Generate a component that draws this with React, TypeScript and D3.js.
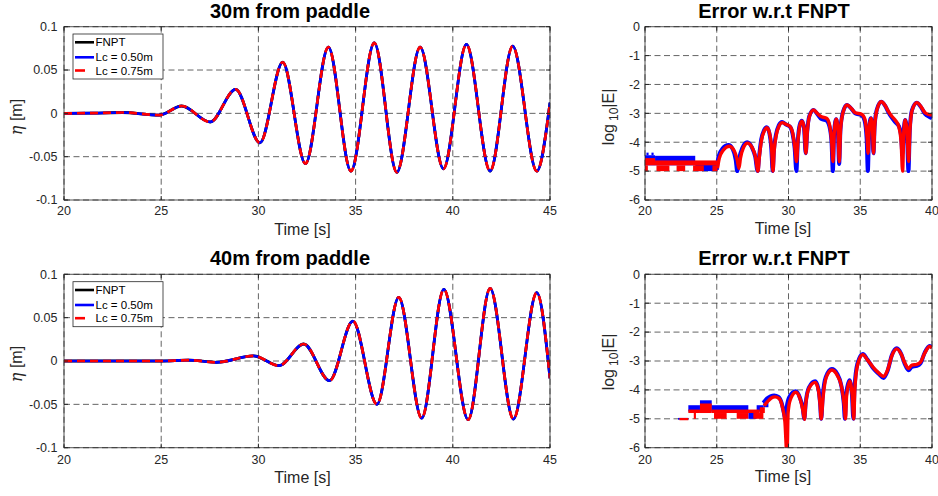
import React from 'react';
import * as d3 from 'd3';

// ---------- axis ticks ----------
const waveTimeTicks = [20, 25, 30, 35, 40, 45];
const etaTicks = [-0.1, -0.05, 0, 0.05, 0.1];
const etaTickLabels = ['-0.1', '-0.05', '0', '0.05', '0.1'];
const errTimeTicks = [20, 25, 30, 35, 40];
const logTicks = [-6, -5, -4, -3, -2, -1, 0];

// ---------- legend ----------
const legendLabels = ['FNPT', 'Lc = 0.50m', 'Lc = 0.75m'];
const seriesColors = ['#000000', '#0000ff', '#ff0000'];

// ---------- surface elevation, 30 m from paddle (time, eta) ----------
const wave30T = [20, 21.5, 23.0, 24.9, 26.05, 27.52, 28.83, 30.08, 31.25, 32.42, 33.6, 34.76, 35.96, 37.12, 38.32, 39.52, 40.7, 41.92, 43.08, 44.32, 45];
const wave30V = [0, 0.0003, 0.001, -0.002, 0.0085, -0.010, 0.0277, -0.034, 0.059, -0.058, 0.0764, -0.0667, 0.0814, -0.068, 0.0764, -0.064, 0.0795, -0.0667, 0.0775, -0.0667, 0.0124];

// ---------- surface elevation, 40 m from paddle ----------
const wave40T = [20, 23, 25, 26.4, 27.84, 29.76, 31.06, 32.33, 33.66, 34.86, 36.10, 37.22, 38.40, 39.54, 40.79, 41.92, 43.12, 44.32, 45];
const wave40V = [0, 0, 0, 0.001, -0.0015, 0.0058, -0.0054, 0.0196, -0.0227, 0.046, -0.050, 0.0735, -0.066, 0.0827, -0.0677, 0.0838, -0.067, 0.0788, -0.020];

// ---------- log10 error, 30 m : quantised noise blocks [t0, t1, top, bottom] ----------
const err30BlueBlocks = [
  [20.0, 20.7, -4.45, -4.8], [20.1, 20.25, -4.36, -4.45], [20.45, 20.6, -4.36, -4.45],
  [20.7, 23.5, -4.47, -4.8], [23.5, 25.05, -4.74, -5.0],
];
const err30RedBlocks = [
  [20.0, 20.7, -4.55, -4.8], [20.7, 25.05, -4.63, -4.8],
  [20.0, 20.2, -4.8, -5.0], [20.8, 21.7, -4.8, -5.0], [22.2, 22.8, -4.8, -5.0],
  [23.35, 24.1, -4.8, -5.0], [24.7, 25.05, -4.8, -5.0],
];
// ---------- log10 error, 30 m : curves [t, log10|E|] ----------
const err30Blue = [
  [25.0, -4.95], [25.12, -4.5], [25.4, -4.22], [25.82, -4.1], [26.12, -4.25], [26.32, -4.6], [26.43, -5.0],
  [26.55, -4.6], [26.78, -4.2], [27.12, -4.0], [27.45, -4.18], [27.68, -4.5], [27.85, -5.0],
  [27.95, -4.5], [28.1, -3.9], [28.3, -3.58], [28.48, -3.48], [28.65, -3.65], [28.8, -4.2], [28.9, -5.0],
  [28.98, -4.3], [29.12, -3.75], [29.32, -3.42], [29.55, -3.3], [29.8, -3.38], [30.1, -3.46], [30.28, -3.7], [30.43, -4.2], [30.55, -5.0],
  [30.65, -3.95], [30.78, -3.4], [30.93, -3.26], [31.08, -3.5], [31.2, -4.38],
  [31.3, -3.65], [31.45, -3.1], [31.74, -2.88], [32.0, -3.02], [32.3, -3.2], [32.65, -3.25], [32.85, -3.45], [33.0, -4.0], [33.09, -5.0],
  [33.18, -3.65], [33.32, -3.2], [33.44, -3.6], [33.53, -4.75],
  [33.62, -3.55], [33.8, -2.95], [34.07, -2.71], [34.4, -2.85], [34.65, -3.0], [35.1, -3.07], [35.3, -3.25], [35.45, -3.9], [35.53, -5.0],
  [35.62, -3.5], [35.74, -3.17], [35.85, -3.6], [35.92, -4.38],
  [36.0, -3.45], [36.15, -2.88], [36.46, -2.6], [36.75, -2.75], [36.97, -2.97], [37.2, -3.15], [37.43, -3.3], [37.7, -3.45], [37.85, -3.8], [37.94, -4.4],
  [38.03, -3.6], [38.13, -3.23], [38.25, -3.6], [38.36, -5.0],
  [38.45, -3.6], [38.6, -2.9], [38.94, -2.63], [39.25, -2.8], [39.52, -3.02], [39.8, -3.12], [40, -3.17],
];
const err30Red = [
  [25.05, -4.9], [25.18, -4.55], [25.45, -4.28], [25.87, -4.14], [26.2, -4.28], [26.42, -4.6], [26.55, -4.9],
  [26.65, -4.55], [26.85, -4.2], [27.15, -4.03], [27.48, -4.2], [27.7, -4.5], [27.87, -5.0],
  [27.97, -4.5], [28.12, -3.92], [28.32, -3.6], [28.5, -3.5], [28.67, -3.67], [28.82, -4.2], [28.92, -5.0],
  [29.0, -4.3], [29.14, -3.77], [29.34, -3.44], [29.57, -3.32], [29.82, -3.38], [30.1, -3.45], [30.3, -3.7], [30.45, -4.2], [30.56, -4.67],
  [30.66, -3.95], [30.79, -3.42], [30.94, -3.27], [31.09, -3.5], [31.21, -4.38],
  [31.31, -3.65], [31.46, -3.1], [31.75, -2.88], [32.0, -3.0], [32.3, -3.12], [32.65, -3.17], [32.86, -3.4], [33.01, -4.0], [33.1, -4.67],
  [33.19, -3.65], [33.33, -3.2], [33.45, -3.6], [33.54, -4.67],
  [33.63, -3.55], [33.81, -2.95], [34.08, -2.71], [34.4, -2.84], [34.65, -2.98], [35.1, -3.03], [35.32, -3.2], [35.47, -3.8], [35.55, -4.38],
  [35.63, -3.5], [35.75, -3.17], [35.86, -3.6], [35.93, -4.38],
  [36.01, -3.45], [36.16, -2.88], [36.47, -2.6], [36.75, -2.74], [36.97, -2.94], [37.2, -3.1], [37.43, -3.23], [37.68, -3.45], [37.85, -4.0], [37.95, -5.0],
  [38.04, -3.6], [38.14, -3.23], [38.26, -3.6], [38.37, -4.67],
  [38.46, -3.6], [38.61, -2.9], [38.95, -2.63], [39.25, -2.78], [39.52, -2.98], [39.8, -3.04], [40, -3.06],
];

// ---------- log10 error, 40 m : quantised noise blocks ----------
const err40BlueBlocks = [
  [22.3, 23.02, -4.97, -5.03], [23.02, 23.83, -4.53, -4.75], [23.83, 24.65, -4.36, -4.75],
  [24.65, 27.2, -4.53, -4.75], [27.2, 27.78, -4.75, -5.0], [27.78, 28.25, -4.53, -4.75],
  [28.25, 28.6, -4.36, -4.6],
];
const err40RedBlocks = [
  [22.4, 23.02, -4.97, -5.05], [23.02, 23.83, -4.68, -4.8], [23.4, 23.55, -4.8, -5.0],
  [23.83, 24.65, -4.47, -4.8], [24.65, 28.0, -4.68, -4.8], [24.81, 25.69, -4.8, -5.0],
  [26.39, 27.2, -4.8, -5.0], [27.55, 28.25, -4.8, -5.0], [28.0, 28.35, -4.6, -4.8],
];
// ---------- log10 error, 40 m : curves ----------
const err40Blue = [
  [28.25, -4.45], [28.5, -4.3], [28.75, -4.22], [29.0, -4.19], [29.3, -4.24], [29.52, -4.45], [29.68, -4.8], [29.77, -5.0],
  [29.87, -4.6], [30.05, -4.25], [30.5, -4.05], [30.8, -4.28], [31.0, -4.65], [31.1, -5.0],
  [31.2, -4.45], [31.42, -3.92], [31.86, -3.7], [32.08, -3.95], [32.2, -4.45], [32.28, -5.0],
  [32.38, -4.25], [32.6, -3.55], [33.02, -3.28], [33.4, -3.45], [33.68, -3.85], [33.85, -4.45], [33.93, -5.0],
  [34.02, -4.15], [34.25, -3.67], [34.42, -4.15], [34.52, -5.0],
  [34.6, -3.95], [34.8, -3.1], [35.18, -2.76], [35.5, -2.95], [35.9, -3.25], [36.3, -3.45], [36.62, -3.59], [36.9, -3.35],
  [37.2, -2.8], [37.55, -2.56], [37.85, -2.75], [38.1, -3.1], [38.36, -3.32], [38.6, -3.2], [38.94, -3.17], [39.2, -3.08],
  [39.5, -2.7], [39.83, -2.48], [40, -2.53],
];
const err40Red = [
  [28.3, -4.55], [28.55, -4.4], [28.8, -4.28], [29.06, -4.24], [29.35, -4.3], [29.58, -4.6], [29.75, -5.1], [29.9, -6.3],
  [29.97, -4.8], [30.12, -4.35], [30.51, -4.08], [30.8, -4.3], [31.0, -4.7], [31.11, -5.02],
  [31.2, -4.5], [31.42, -3.95], [31.86, -3.74], [32.08, -4.0], [32.2, -4.5], [32.28, -5.0],
  [32.4, -4.3], [32.62, -3.58], [33.02, -3.31], [33.4, -3.5], [33.7, -3.9], [33.88, -4.5], [33.97, -5.0],
  [34.05, -4.2], [34.27, -3.7], [34.44, -4.2], [34.55, -5.0],
  [34.62, -4.0], [34.82, -3.12], [35.18, -2.78], [35.5, -2.96], [35.9, -3.22], [36.3, -3.42], [36.62, -3.53], [36.9, -3.32],
  [37.2, -2.82], [37.55, -2.58], [37.85, -2.76], [38.1, -3.06], [38.36, -3.26], [38.6, -3.14], [38.94, -3.12], [39.2, -3.04],
  [39.5, -2.72], [39.83, -2.5], [40, -2.55],
];

const FONT = "'Liberation Sans', Arial, Helvetica, sans-serif";
const AXIS_COLOR = '#262626';

type PanelProps = {
  id: string;
  x0: number; x1: number; y0: number; y1: number;
  xDomain: [number, number]; yDomain: [number, number];
  xTicks: number[]; yTicks: number[]; yTickLabels: string[];
  title: string; titleX: number; titleY: number;
  xLabelX: number; xLabelY: number; xTickY: number; yTickX: number;
  yLabel: React.ReactNode;
  children: (xs: d3.ScaleLinear<number, number>, ys: d3.ScaleLinear<number, number>) => React.ReactNode;
};

function Panel(p: PanelProps) {
  const xs = d3.scaleLinear().domain(p.xDomain).range([p.x0, p.x1]);
  const ys = d3.scaleLinear().domain(p.yDomain).range([p.y1, p.y0]);
  const tl = 4;
  return (
    <g>
      <defs>
        <clipPath id={p.id}>
          <rect x={p.x0} y={p.y0} width={p.x1 - p.x0} height={p.y1 - p.y0} />
        </clipPath>
      </defs>
      <rect x={p.x0} y={p.y0} width={p.x1 - p.x0} height={p.y1 - p.y0} fill="#fff" />
      {p.xTicks.map((t) => (
        <line key={'gx' + t} x1={xs(t)} x2={xs(t)} y1={p.y0} y2={p.y1} stroke="#333" strokeOpacity={0.85} strokeWidth={0.9} strokeDasharray="6,3.5" />
      ))}
      {p.yTicks.map((t) => (
        <line key={'gy' + t} x1={p.x0} x2={p.x1} y1={ys(t)} y2={ys(t)} stroke="#333" strokeOpacity={0.85} strokeWidth={0.9} strokeDasharray="6,3.5" />
      ))}
      <g clipPath={`url(#${p.id})`}>{p.children(xs, ys)}</g>
      <rect x={p.x0} y={p.y0} width={p.x1 - p.x0} height={p.y1 - p.y0} fill="none" stroke={AXIS_COLOR} strokeOpacity={0.8} strokeWidth={1} />
      {p.xTicks.map((t) => (
        <g key={'tx' + t}>
          <line x1={xs(t)} x2={xs(t)} y1={p.y1} y2={p.y1 - tl} stroke={AXIS_COLOR} />
          <line x1={xs(t)} x2={xs(t)} y1={p.y0} y2={p.y0 + tl} stroke={AXIS_COLOR} />
          <text x={xs(t)} y={p.xTickY} textAnchor="middle" fontSize={12.5} fill={AXIS_COLOR} fontFamily={FONT}>{t}</text>
        </g>
      ))}
      {p.yTicks.map((t, i) => (
        <g key={'ty' + t}>
          <line x1={p.x0} x2={p.x0 + tl} y1={ys(t)} y2={ys(t)} stroke={AXIS_COLOR} />
          <line x1={p.x1} x2={p.x1 - tl} y1={ys(t)} y2={ys(t)} stroke={AXIS_COLOR} />
          <text x={p.yTickX} y={ys(t)} dy="0.35em" textAnchor="end" fontSize={12.5} fill={AXIS_COLOR} fontFamily={FONT}>{p.yTickLabels[i]}</text>
        </g>
      ))}
      <text x={p.titleX} y={p.titleY} textAnchor="middle" fontSize={20} fontWeight="bold" fill="#000" fontFamily={FONT}>{p.title}</text>
      <text x={p.xLabelX} y={p.xLabelY} textAnchor="middle" fontSize={16} fill={AXIS_COLOR} fontFamily={FONT}>Time [s]</text>
      {p.yLabel}
    </g>
  );
}

function WaveLines(xs: any, ys: any, T: number[], V: number[]) {
  const pts: [number, number][] = T.map((t, i) => [t, V[i]]);
  const line = d3.line<[number, number]>().x((d) => xs(d[0])).y((d) => ys(d[1])).curve(d3.curveMonotoneX);
  const d = line(pts) || '';
  return (
    <g fill="none">
      <path d={d} stroke={seriesColors[0]} strokeWidth={2.8} />
      <path d={d} stroke={seriesColors[1]} strokeWidth={2.7} />
      <path d={d} stroke={seriesColors[2]} strokeWidth={2.7} strokeDasharray="8,5" />
    </g>
  );
}

function ErrLines(xs: any, ys: any, blueBlocks: number[][], redBlocks: number[][], blue: number[][], red: number[][]) {
  const line = d3.line<number[]>().x((d) => xs(d[0])).y((d) => ys(d[1])).curve(d3.curveMonotoneX);
  const blocks = (bl: number[][], color: string) =>
    bl.map((b, i) => (
      <rect key={color + i} x={xs(b[0])} y={ys(b[2])} width={xs(b[1]) - xs(b[0])} height={ys(b[3]) - ys(b[2])} fill={color} />
    ));
  return (
    <g>
      {blocks(blueBlocks, seriesColors[1])}
      <path d={line(blue) || ''} fill="none" stroke={seriesColors[1]} strokeWidth={4} strokeLinejoin="round" />
      {blocks(redBlocks, seriesColors[2])}
      <path d={line(red) || ''} fill="none" stroke={seriesColors[2]} strokeWidth={3.4} strokeLinejoin="round" />
    </g>
  );
}

function Legend({ x, y }: { x: number; y: number }) {
  const rows = [8.3, 23.3, 36.5];
  return (
    <g fontFamily={FONT}>
      <rect x={x} y={y} width={90} height={45} fill="#fff" stroke={AXIS_COLOR} strokeWidth={0.8} />
      {legendLabels.map((lab, i) => (
        <g key={lab}>
          {i < 2 ? (
            <line x1={x + 2} x2={x + 21} y1={y + rows[i]} y2={y + rows[i]} stroke={seriesColors[i]} strokeWidth={2.6} />
          ) : (
            <line x1={x + 2} x2={x + 12} y1={y + rows[i]} y2={y + rows[i]} stroke={seriesColors[i]} strokeWidth={2.6} />
          )}
          <text x={x + 22.5} y={y + rows[i]} dy="0.35em" fontSize={11.5} fill="#000">{lab}</text>
        </g>
      ))}
    </g>
  );
}

function EtaLabel({ cx, cy }: { cx: number; cy: number }) {
  return (
    <text transform={`translate(${cx},${cy}) rotate(-90)`} textAnchor="middle" fontSize={16} fill={AXIS_COLOR} fontFamily={FONT}>
      <tspan fontFamily="'DejaVu Serif', serif" fontStyle="italic">η</tspan> [m]
    </text>
  );
}

function LogLabel({ cx, cy }: { cx: number; cy: number }) {
  return (
    <text transform={`translate(${cx},${cy}) rotate(-90)`} textAnchor="middle" fontSize={16} fill={AXIS_COLOR} fontFamily={FONT}>
      log<tspan dx={3} dy={4} fontSize={12}>10</tspan><tspan dy={-4}>|E|</tspan>
    </text>
  );
}

export default function App() {
  const L = { x0: 64, x1: 550 };
  const R = { x0: 645, x1: 932 };
  const top = { y0: 26.7, y1: 200 };
  const bot = { y0: 274.3, y1: 447.7 };
  return (
    <svg width={938} height={496} style={{ position: 'absolute', left: 0, top: 0, background: '#fff' }}>
      <rect width={938} height={496} fill="#fff" />
      <Panel id="c1" {...L} {...top} xDomain={[20, 45]} yDomain={[-0.1, 0.1]} xTicks={waveTimeTicks}
        yTicks={etaTicks} yTickLabels={etaTickLabels} title="30m from paddle" titleX={290} titleY={17.5}
        xLabelX={302.5} xLabelY={235} xTickY={215} yTickX={57.5} yLabel={<EtaLabel cx={22} cy={117} />}>
        {(xs, ys) => WaveLines(xs, ys, wave30T, wave30V)}
      </Panel>
      <Legend x={73} y={34} />
      <Panel id="c2" {...R} {...top} xDomain={[20, 40]} yDomain={[-6, 0]} xTicks={errTimeTicks}
        yTicks={logTicks} yTickLabels={logTicks.map(String)} title="Error w.r.t FNPT" titleX={774} titleY={17.5}
        xLabelX={783} xLabelY={233.5} xTickY={215} yTickX={640} yLabel={<LogLabel cx={614} cy={117} />}>
        {(xs, ys) => ErrLines(xs, ys, err30BlueBlocks, err30RedBlocks, err30Blue, err30Red)}
      </Panel>
      <Panel id="c3" {...L} {...bot} xDomain={[20, 45]} yDomain={[-0.1, 0.1]} xTicks={waveTimeTicks}
        yTicks={etaTicks} yTickLabels={etaTickLabels} title="40m from paddle" titleX={290} titleY={264.5}
        xLabelX={302.5} xLabelY={483} xTickY={463.5} yTickX={57.5} yLabel={<EtaLabel cx={22} cy={364} />}>
        {(xs, ys) => WaveLines(xs, ys, wave40T, wave40V)}
      </Panel>
      <Legend x={73} y={281.7} />
      <Panel id="c4" {...R} {...bot} xDomain={[20, 40]} yDomain={[-6, 0]} xTicks={errTimeTicks}
        yTicks={logTicks} yTickLabels={logTicks.map(String)} title="Error w.r.t FNPT" titleX={774} titleY={264.5}
        xLabelX={783} xLabelY={482} xTickY={463.5} yTickX={640} yLabel={<LogLabel cx={614} cy={362} />}>
        {(xs, ys) => ErrLines(xs, ys, err40BlueBlocks, err40RedBlocks, err40Blue, err40Red)}
      </Panel>
    </svg>
  );
}
